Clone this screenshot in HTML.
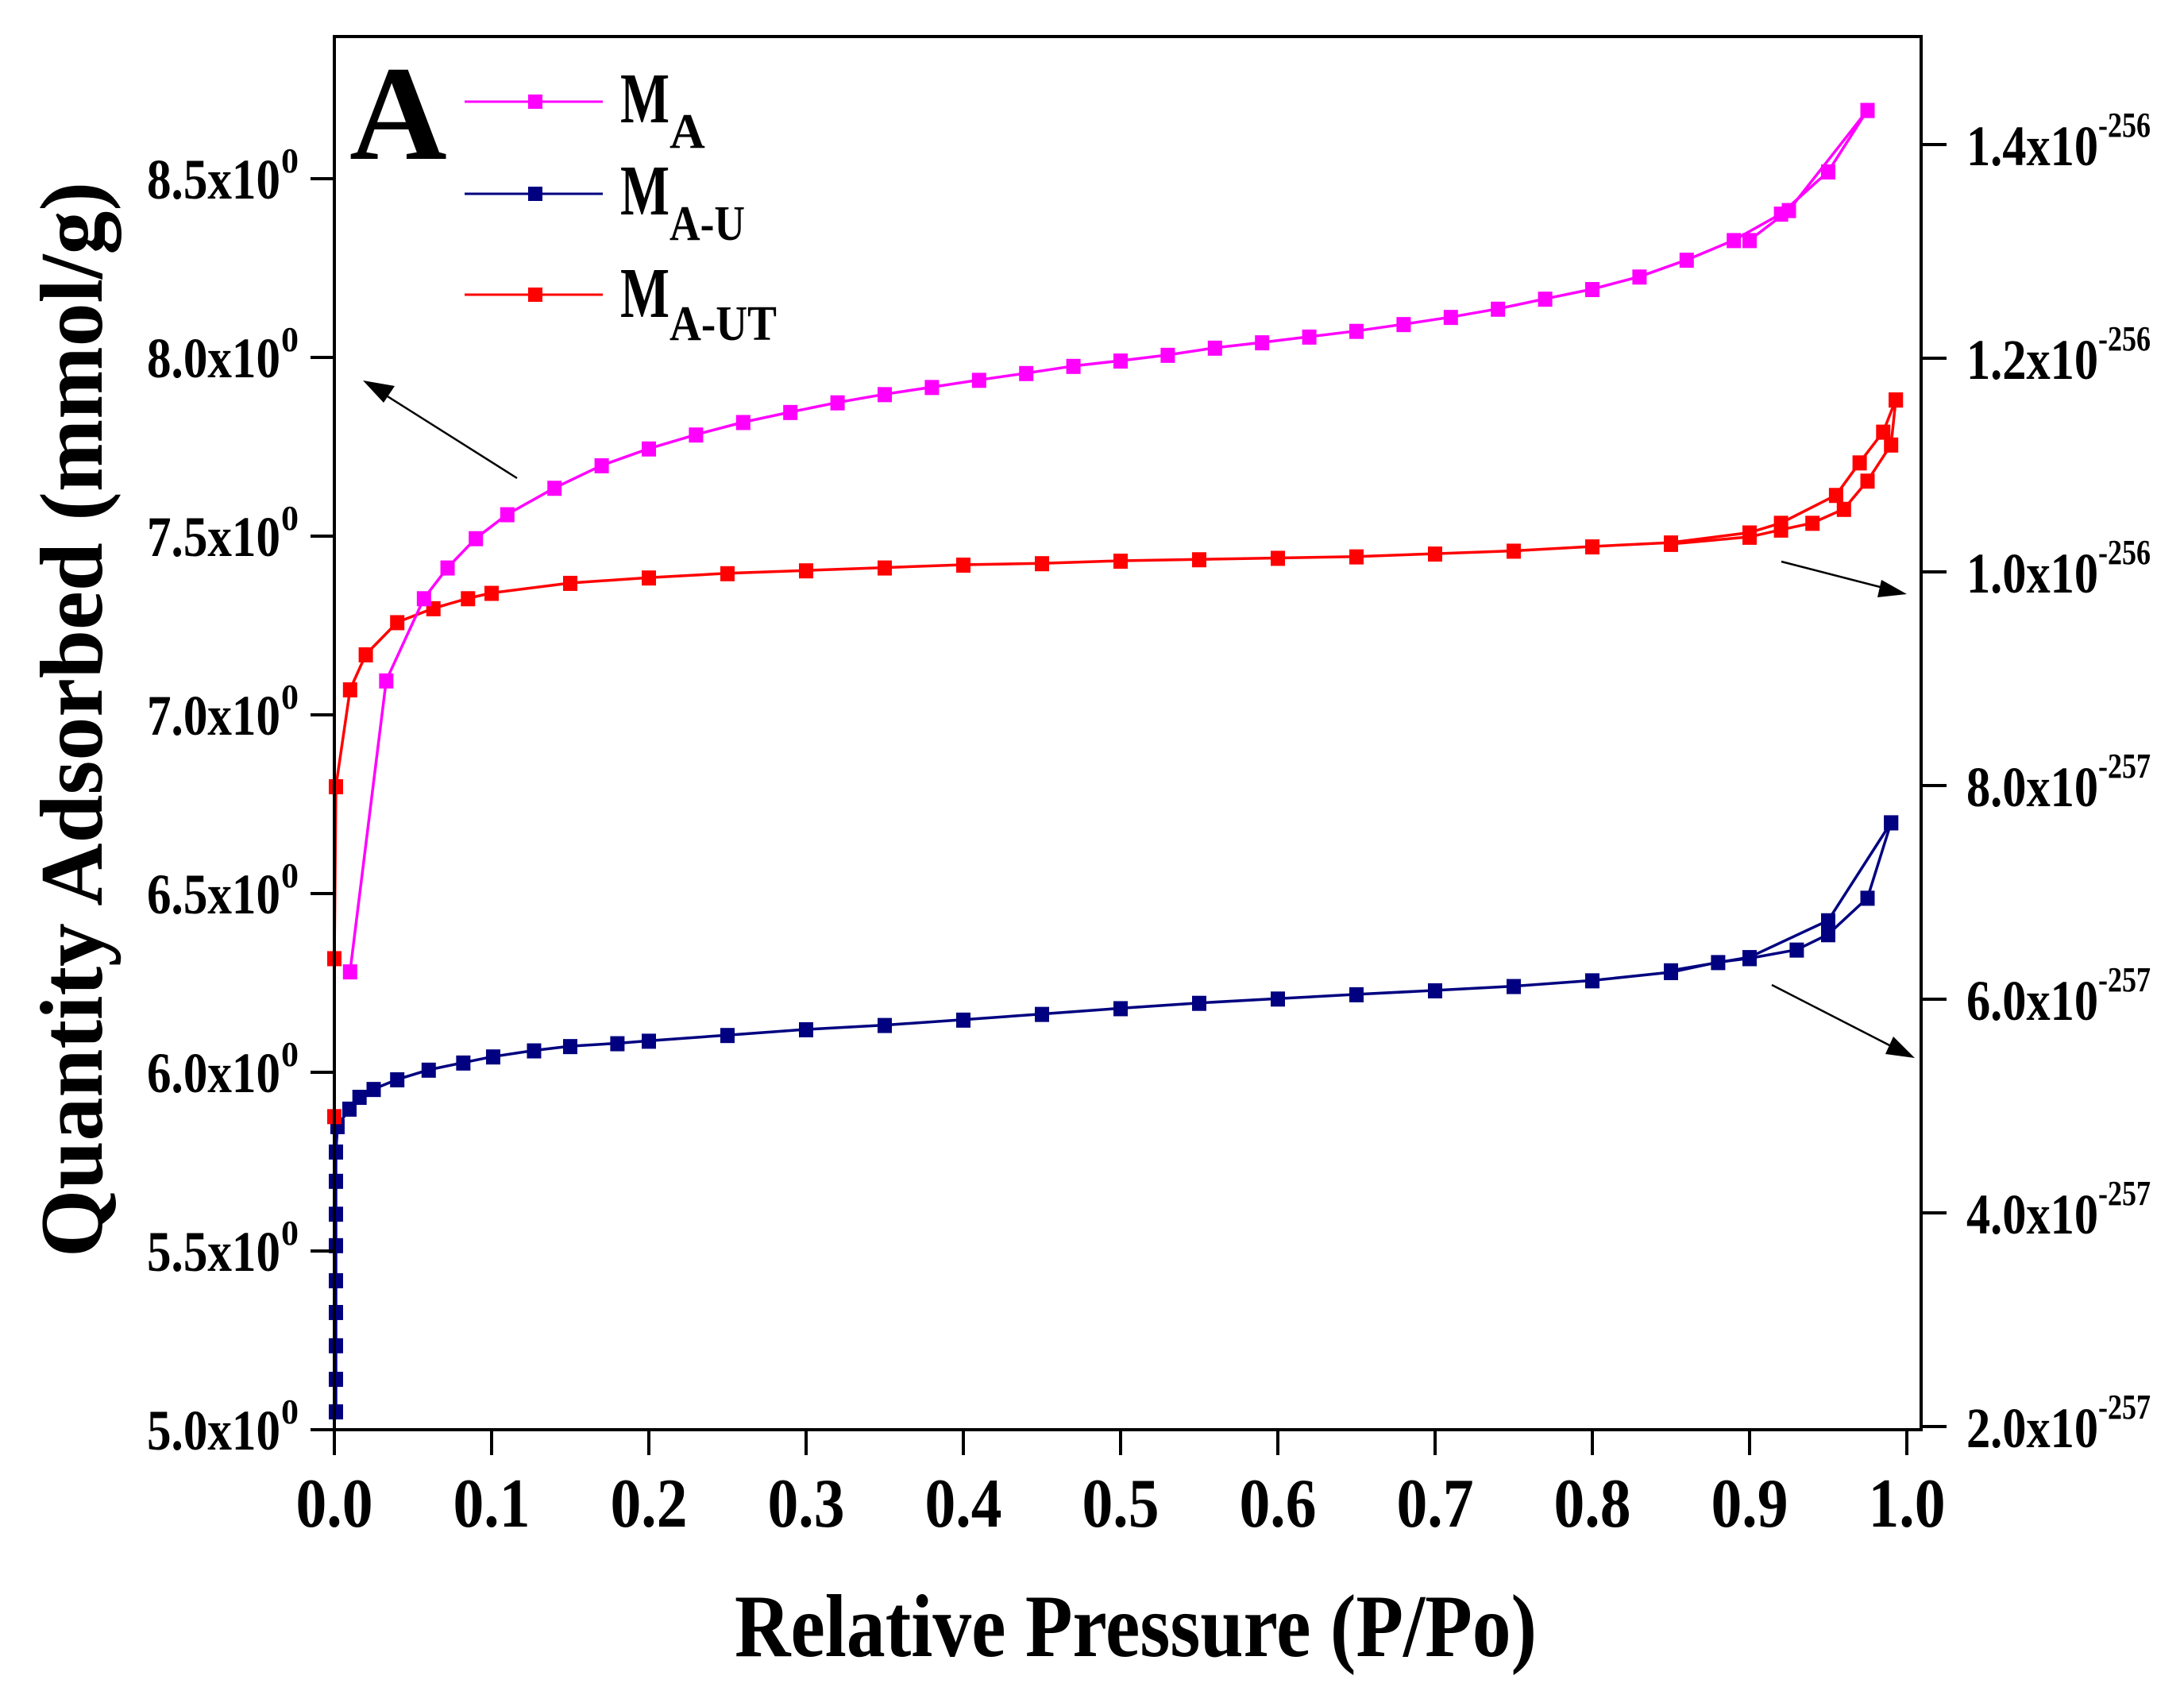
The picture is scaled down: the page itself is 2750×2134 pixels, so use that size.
<!DOCTYPE html>
<html><head><meta charset="utf-8"><style>
html,body{margin:0;padding:0;background:#fff}
svg{display:block}
text{font-family:"Liberation Serif",serif;font-weight:bold;fill:#000}
</style></head><body>
<svg id="chart" width="2750" height="2134" viewBox="0 0 2750 2134" xmlns="http://www.w3.org/2000/svg">
<rect width="2750" height="2134" fill="#fff"/>
<g id="series"></g>
<g id="axes"></g>
<text x="440" y="200" font-size="170">A</text>
<g>
 <g><line x1="585" y1="128" x2="759" y2="128" stroke="#ff00ff" stroke-width="3"/><rect x="665" y="119" width="18" height="18" fill="#ff00ff"/>
 <text x="781" y="154" font-size="90" textLength="62" lengthAdjust="spacingAndGlyphs">M</text><text x="843" y="186" font-size="62">A</text></g>
 <g><line x1="585" y1="244" x2="759" y2="244" stroke="#000080" stroke-width="3"/><rect x="665" y="235" width="18" height="18" fill="#000080"/>
 <text x="781" y="270" font-size="90" textLength="62" lengthAdjust="spacingAndGlyphs">M</text><text x="843" y="302" font-size="62" textLength="95" lengthAdjust="spacingAndGlyphs">A-U</text></g>
 <g><line x1="585" y1="371" x2="759" y2="371" stroke="#ff0000" stroke-width="3"/><rect x="665" y="362" width="18" height="18" fill="#ff0000"/>
 <text x="781" y="399" font-size="90" textLength="62" lengthAdjust="spacingAndGlyphs">M</text><text x="843" y="428" font-size="62" textLength="135" lengthAdjust="spacingAndGlyphs">A-UT</text></g>
</g>
<g stroke="#000" stroke-width="2.5">
 <line x1="651" y1="602" x2="480" y2="494"/><polygon points="457,479 497,486 483,507" fill="#000" stroke="none"/>
 <line x1="2243" y1="707" x2="2375" y2="741"/><polygon points="2401,748 2369,730 2364,752" fill="#000" stroke="none"/>
 <line x1="2231" y1="1240" x2="2385" y2="1319"/><polygon points="2411,1332 2384,1305 2374,1327" fill="#000" stroke="none"/>
</g>
<text transform="translate(128,906) rotate(-90)" text-anchor="middle" font-size="112" textLength="1354" lengthAdjust="spacingAndGlyphs">Quantity Adsorbed (mmol/g)</text>
<text x="1430" y="2085" text-anchor="middle" font-size="112" textLength="1010" lengthAdjust="spacingAndGlyphs">Relative Pressure (P/Po)</text>
</svg>
<script>
const xTicks=[0.0,0.1,0.2,0.3,0.4,0.5,0.6,0.7,0.8,0.9,1.0];
const yTicksLeft=[5.0,5.5,6.0,6.5,7.0,7.5,8.0,8.5];
const yTicksRight=[0.2,0.4,0.6,0.8,1.0,1.2,1.4];
const rightMant=["2.0","4.0","6.0","8.0","1.0","1.2","1.4"];
const rightExp=["-257","-257","-257","-257","-256","-256","-256"];
const maP=[0.010,0.033,0.057,0.072,0.09,0.11,0.14,0.17,0.2,0.23,0.26,0.29,0.32,0.35,0.38,0.41,0.44,0.47,0.5,0.53,0.56,0.59,0.62,0.65,0.68,0.71,0.74,0.77,0.80,0.83,0.86,0.89,0.92,0.95,0.975];
const maV=[6.282,7.096,7.326,7.412,7.494,7.561,7.635,7.698,7.745,7.784,7.819,7.847,7.874,7.897,7.917,7.937,7.956,7.976,7.991,8.007,8.027,8.042,8.058,8.074,8.093,8.113,8.136,8.164,8.191,8.226,8.273,8.328,8.402,8.520,8.692];
const maDesP=[0.975,0.925,0.90];
const maDesV=[8.692,8.412,8.328];
const utP=[0.0,0.0,0.001,0.010,0.020,0.04,0.063,0.085,0.1,0.15,0.2,0.25,0.3,0.35,0.4,0.45,0.5,0.55,0.6,0.65,0.7,0.75,0.8,0.85,0.9,0.92,0.955,0.97,0.985,0.993];
const utV=[5.877,6.319,6.80,7.071,7.169,7.259,7.298,7.326,7.341,7.369,7.384,7.396,7.404,7.412,7.420,7.424,7.431,7.435,7.439,7.443,7.451,7.459,7.471,7.482,7.510,7.537,7.615,7.706,7.792,7.882];
const utDesP=[0.993,0.99,0.975,0.96,0.94,0.92,0.9,0.85];
const utDesV=[7.882,7.756,7.655,7.576,7.537,7.518,7.498,7.478];
const uP=[0.001,0.001,0.001,0.001,0.001,0.001,0.001,0.001,0.001,0.002,0.0096,0.016,0.025,0.040,0.060,0.082,0.101,0.127,0.15,0.18,0.2,0.25,0.3,0.35,0.4,0.45,0.5,0.55,0.6,0.65,0.7,0.75,0.8,0.85,0.88,0.9,0.93,0.95,0.975,0.99];
const uV=[5.051,5.142,5.236,5.329,5.418,5.516,5.604,5.696,5.778,5.849,5.898,5.931,5.953,5.980,6.007,6.027,6.044,6.061,6.073,6.081,6.088,6.104,6.120,6.132,6.147,6.163,6.179,6.194,6.206,6.218,6.229,6.241,6.257,6.280,6.308,6.319,6.343,6.386,6.488,6.699];
const uDesP=[0.99,0.95,0.9,0.85];
const uDesV=[6.699,6.425,6.322,6.285];

const X=p=>421+p*1980;
const Y=v=>1800-(v-5)*450;
const YR=r=>720-(r-1.0)*1345;
const NS="http://www.w3.org/2000/svg";
function mk(tag,attrs,parent){const e=document.createElementNS(NS,tag);for(const k in attrs)e.setAttribute(k,attrs[k]);parent.appendChild(e);return e;}
const series=document.getElementById('series');
function drawSeries(name,P,V,color,markers){
  const g=mk('g',{},series);
  
  
  const pts=P.map((p,i)=>X(p).toFixed(1)+','+Y(V[i]).toFixed(1)).join(' ');
  const pl=mk('polyline',{points:pts,fill:'none',stroke:color,'stroke-width':3.5,'stroke-linejoin':'round'},g);
  
  
  if(markers){P.forEach((p,i)=>{
    const r=mk('rect',{x:X(p)-9,y:Y(V[i])-9,width:18,height:19,fill:color},g);
    
    
  });}
}
drawSeries('series-ma-u-desorption',uDesP,uDesV,'#000080',true);
drawSeries('series-ma-u',uP,uV,'#000080',true);
drawSeries('series-ma-ut-desorption',utDesP,utDesV,'#ff0000',true);
drawSeries('series-ma-ut',utP,utV,'#ff0000',true);
drawSeries('series-ma-desorption',maDesP,maDesV,'#ff00ff',true);
drawSeries('series-ma',maP,maV,'#ff00ff',true);

const axes=document.getElementById('axes');
const frame=mk('path',{d:'M421,46 L2419,46 L2419,1800 L421,1800 Z',fill:'none',stroke:'#000',
 'stroke-width':4},axes);


xTicks.forEach(t=>{
  const x=X(t);
  const l=mk('line',{x1:x,y1:1800,x2:x,y2:1832,stroke:'#000','stroke-width':4},axes);
  
  
  const tx=mk('text',{x:x,y:1922,'text-anchor':'middle','font-size':88,textLength:97,lengthAdjust:'spacingAndGlyphs'},axes);
  tx.textContent=t.toFixed(1);
  
  
});
yTicksLeft.forEach(t=>{
  const y=Y(t);
  const l=mk('line',{x1:391,y1:y,x2:421,y2:y,stroke:'#000','stroke-width':4},axes);
  
  
  const tx=mk('text',{x:185,y:y+25,'font-size':72,textLength:168,lengthAdjust:'spacingAndGlyphs'},axes);
  tx.textContent=t.toFixed(1)+'x10';
  
  
  const sp=mk('text',{x:354,y:y-8,'font-size':44},axes);
  sp.textContent='0';
  
  
});
yTicksRight.forEach((t,i)=>{
  const y=YR(t);
  const l=mk('line',{x1:2419,y1:y,x2:2451,y2:y,stroke:'#000','stroke-width':4},axes);
  
  
  const tx=mk('text',{x:2476,y:y+26,'font-size':72,textLength:166,lengthAdjust:'spacingAndGlyphs'},axes);
  tx.textContent=rightMant[i]+'x10';
  
  
  const sp=mk('text',{x:2642,y:y-10,'font-size':44,textLength:66,lengthAdjust:'spacingAndGlyphs'},axes);
  sp.textContent=rightExp[i];
  
  
});
</script>
</body></html>
